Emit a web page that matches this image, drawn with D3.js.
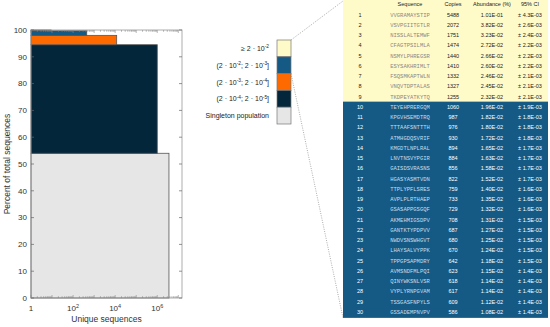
<!DOCTYPE html>
<html>
<head>
<meta charset="utf-8">
<script src="https://d3js.org/d3.v7.min.js"></script>
<style>
  body { margin: 0; background: #fff; }
  text { font-family: "Liberation Sans", Arial, sans-serif; }
</style>
</head>
<body>
<div id="viz"></div>
<script>
// abundance classes, bottom to top
var classes = ["Singleton population", "(2 · 10^{-4}; 2 · 10^{-5}]", "(2 · 10^{-3}; 2 · 10^{-4}]", "(2 · 10^{-2}; 2 · 10^{-3}]", "≥ 2 · 10^{-2}"];
var classColors = ["#e6e6e6", "#03263b", "#ff6a00", "#145a85", "#fffbc9"];
var classPercent = [54.0, 40.5, 3.5, 1.7, 0.3];
var classUnique = [3.6e6, 1.0e6, 1.18e4, 445, 9];

var yTicks = [0, 10, 20, 30, 40, 50, 60, 70, 80, 90, 100];
var xTicks = [1, 1e2, 1e4, 1e6];

// top 30 sequences
var seqs = ["VVGRAMAYSTIP", "VSVPGIITGTLR", "NISSLALTEMWF", "CFAGTPSILMLA", "NSMYLPHREGSR", "ESYSAKHRIMLT", "FSQSMKAPTWLN", "VNQVTDPTALAS", "TKDPEYATKYTQ", "TEYEHPRERGQM",
  "KPGVHSEMDTRQ", "TTTAAFSNTTTH", "ATMHGDQSVRIF", "KMGDTLNPLRAL", "LNVTNSVYPGIR", "GAISDSVRASNS", "HGASYASMTVDN", "TTPLYPFLSRES", "AVPLPLRTHAEP", "GSASAPPGSGQF",
  "AKMEHMIGSDPV", "GANTKTYPDPVV", "NWDVSNSWHGVT", "LHAYSALVYPPK", "TPPGPSAPMDRY", "AVMSNDFMLPQI", "QINYWKSNLVSR", "VYPLYRNPGVAM", "TSSGASFNPYLS", "GSSADEMPNVPV"];
var copies = [5488, 2072, 1751, 1474, 1440, 1410, 1332, 1327, 1255, 1060, 987, 976, 930, 894, 884, 856, 822, 759, 733, 729, 708, 687, 680, 670, 642, 623, 618, 617, 609, 586];
var abundance = ["1.01E-01", "3.82E-02", "3.23E-02", "2.72E-02", "2.66E-02", "2.60E-02", "2.46E-02", "2.45E-02", "2.32E-02", "1.96E-02",
  "1.82E-02", "1.80E-02", "1.72E-02", "1.65E-02", "1.63E-02", "1.58E-02", "1.52E-02", "1.40E-02", "1.35E-02", "1.32E-02",
  "1.31E-02", "1.27E-02", "1.25E-02", "1.24E-02", "1.18E-02", "1.15E-02", "1.14E-02", "1.14E-02", "1.12E-02", "1.08E-02"];
var ci = ["4.3E-03", "2.6E-03", "2.4E-03", "2.2E-03", "2.2E-03", "2.2E-03", "2.1E-03", "2.1E-03", "2.1E-03", "1.9E-03",
  "1.8E-03", "1.8E-03", "1.8E-03", "1.7E-03", "1.7E-03", "1.7E-03", "1.7E-03", "1.6E-03", "1.6E-03", "1.6E-03",
  "1.5E-03", "1.5E-03", "1.5E-03", "1.5E-03", "1.5E-03", "1.4E-03", "1.4E-03", "1.4E-03", "1.4E-03", "1.4E-03"];
var tableHeaders = ["", "Sequence", "Copies", "Abundance (%)", "95% CI"];

var svg = d3.select("#viz").append("svg")
  .attr("width", 550).attr("height", 327);

// plot area
var pL = 31, pR = 182, pT = 30, pB = 298;
var x = d3.scaleLog().domain([1, 1.5e7]).range([pL, pR]);
var y = d3.scaleLinear().domain([0, 100]).range([pB, pT]);

// stacked bars
var cum = 0;
var bars = classPercent.map(function (p, i) {
  var b = { y0: cum, y1: cum + p, n: classUnique[i], color: classColors[i] };
  cum += p;
  return b;
});
svg.selectAll("rect.bar").data(bars).enter().append("rect")
  .attr("class", "bar")
  .attr("x", x(1))
  .attr("y", function (d) { return y(d.y1); })
  .attr("width", function (d) { return x(d.n) - x(1); })
  .attr("height", function (d) { return y(d.y0) - y(d.y1); })
  .attr("fill", function (d) { return d.color; })
  .attr("stroke", "#555").attr("stroke-width", 0.8);

// box
svg.append("rect").attr("x", pL).attr("y", pT)
  .attr("width", pR - pL).attr("height", pB - pT)
  .attr("fill", "none").attr("stroke", "#999").attr("stroke-width", 0.8);

// y axis ticks + labels
var yt = svg.append("g");
yTicks.forEach(function (t) {
  yt.append("line").attr("x1", pL).attr("x2", pL + 3).attr("y1", y(t)).attr("y2", y(t)).attr("stroke", "#666").attr("stroke-width", 0.7);
  yt.append("line").attr("x1", pR).attr("x2", pR - 3).attr("y1", y(t)).attr("y2", y(t)).attr("stroke", "#666").attr("stroke-width", 0.7);
  yt.append("text").attr("x", pL - 4).attr("y", y(t) + 2.8)
    .attr("text-anchor", "end").attr("font-size", 8).attr("fill", "#333").text(t);
});

// x minor ticks (log)
x.ticks().forEach(function (t) {
  var major = Math.abs(Math.log10(t) - Math.round(Math.log10(t))) < 1e-9;
  var len = major ? 3 : 1.8;
  svg.append("line").attr("x1", x(t)).attr("x2", x(t)).attr("y1", pB).attr("y2", pB - len).attr("stroke", "#888").attr("stroke-width", 0.6);
  svg.append("line").attr("x1", x(t)).attr("x2", x(t)).attr("y1", pT).attr("y2", pT + len).attr("stroke", "#888").attr("stroke-width", 0.6);
});
xTicks.forEach(function (t) {
  var e = Math.round(Math.log10(t));
  var tx = svg.append("text").attr("x", x(t)).attr("y", pB + 13)
    .attr("text-anchor", "middle").attr("font-size", 8).attr("fill", "#333");
  if (e === 0) tx.text("1");
  else {
    tx.append("tspan").text("10");
    tx.append("tspan").attr("dy", -3.5).attr("font-size", 5.5).text(e);
  }
});

svg.append("text").attr("x", (pL + pR) / 2).attr("y", 322)
  .attr("text-anchor", "middle").attr("font-size", 8.5).attr("fill", "#333").text("Unique sequences");
svg.append("text").attr("transform", "translate(10," + ((pT + pB) / 2) + ") rotate(-90)")
  .attr("text-anchor", "middle").attr("font-size", 8.5).attr("fill", "#333").text("Percent of total sequences");

// legend (top to bottom)
function richText(sel, s) {
  var parts = s.split(/\^\{([^}]*)\}/);
  parts.forEach(function (p, i) {
    if (i % 2 === 0) { if (p) sel.append("tspan").attr("dy", i ? 2.6 : 0).text(p); }
    else sel.append("tspan").attr("dy", -2.6).attr("font-size", 4.8).text(p);
  });
}
var lgX = 277, lgY = 40, lgW = 14, lgH = 16.8;
var order = d3.range(classes.length).reverse();
order.forEach(function (c, k) {
  svg.append("rect").attr("x", lgX).attr("y", lgY + k * lgH)
    .attr("width", lgW).attr("height", lgH)
    .attr("fill", classColors[c]).attr("stroke", "#777").attr("stroke-width", 0.7);
  var t = svg.append("text").attr("x", lgX - 8).attr("y", lgY + k * lgH + lgH / 2 + 2.6)
    .attr("text-anchor", "end").attr("font-size", 7).attr("fill", "#222");
  richText(t, classes[c]);
});

// table
var tx0 = 343, tx1 = 548, ty0 = 0, rowH = 10.25, row0 = 14.5;
var colX = [360, 410, 453, 492, 530];
var nTop = classUnique[4];
var sepY = row0 + (nTop - 0.5) * rowH;
var tableBottom = row0 + (seqs.length - 0.5) * rowH + 1;

// zoom guide lines
var guide = svg.append("g").attr("stroke", "#888").attr("stroke-width", 0.7).attr("stroke-dasharray", "1,1.3");
guide.append("line").attr("x1", lgX + lgW).attr("y1", lgY).attr("x2", tx0).attr("y2", ty0 + 1);
guide.append("line").attr("x1", lgX + lgW).attr("y1", lgY + 2 * lgH).attr("x2", tx0).attr("y2", tableBottom);

svg.append("rect").attr("x", tx0).attr("y", ty0).attr("width", tx1 - tx0).attr("height", sepY - ty0).attr("fill", classColors[4]);
svg.append("rect").attr("x", tx0).attr("y", sepY).attr("width", tx1 - tx0).attr("height", tableBottom - sepY).attr("fill", classColors[3]);

tableHeaders.forEach(function (h, j) {
  svg.append("text").attr("x", colX[j]).attr("y", 6).attr("text-anchor", "middle")
    .attr("font-size", 5.5).attr("fill", "#222").text(h);
});

var rows = seqs.map(function (s, i) {
  return { idx: i + 1, seq: s, copies: copies[i], ab: abundance[i], ci: "± " + ci[i], top: i < nTop };
});
var rg = svg.selectAll("g.row").data(rows).enter().append("g")
  .attr("transform", function (d, i) { return "translate(0," + (row0 + i * rowH + 2) + ")"; });
rg.append("text").attr("x", colX[0]).attr("text-anchor", "middle").attr("font-size", 5.5)
  .attr("fill", function (d) { return d.top ? "#222" : "#fff"; }).text(function (d) { return d.idx; });
rg.append("text").attr("x", colX[1]).attr("text-anchor", "middle").attr("font-size", 5.5)
  .style("font-family", "'Liberation Mono', 'DejaVu Sans Mono', monospace")
  .attr("fill", function (d) { return d.top ? "#888" : "#c8dcea"; }).text(function (d) { return d.seq; });
rg.append("text").attr("x", colX[2]).attr("text-anchor", "middle").attr("font-size", 5.5)
  .attr("fill", function (d) { return d.top ? "#222" : "#fff"; }).text(function (d) { return d.copies; });
rg.append("text").attr("x", colX[3]).attr("text-anchor", "middle").attr("font-size", 5.5)
  .attr("fill", function (d) { return d.top ? "#222" : "#fff"; }).text(function (d) { return d.ab; });
rg.append("text").attr("x", colX[4]).attr("text-anchor", "middle").attr("font-size", 5.5)
  .attr("fill", function (d) { return d.top ? "#222" : "#fff"; }).text(function (d) { return d.ci; });
</script>
</body>
</html>
